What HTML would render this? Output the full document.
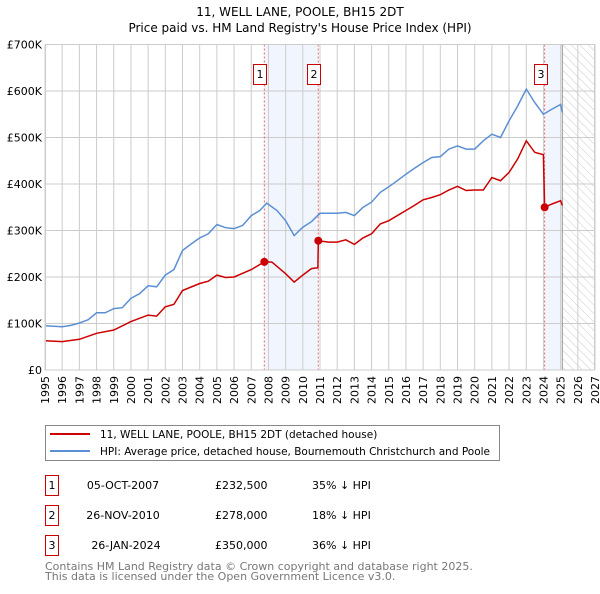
<!DOCTYPE html>
<html><head><meta charset="utf-8"><style>
body{margin:0;background:#fff;font-family:"DejaVu Sans","Liberation Sans",sans-serif;}
svg text{font-family:"DejaVu Sans","Liberation Sans",sans-serif;}
</style></head><body>
<svg id="c" width="600" height="590" viewBox="0 0 600 590">
<defs><pattern id="hatch" width="6" height="6" patternUnits="userSpaceOnUse" patternTransform="rotate(-45)"><line x1="0" y1="0" x2="0" y2="6" stroke="#ccc" stroke-width="1"/></pattern></defs>
<text x="300" y="16" text-anchor="middle" font-size="12">11, WELL LANE, POOLE, BH15 2DT</text>
<text x="300" y="32" text-anchor="middle" font-size="12">Price paid vs. HM Land Registry's House Price Index (HPI)</text>
<g id="plot"></g>
<g>
<rect x="45.5" y="425.5" width="454" height="35" fill="#fff" stroke="#888"/>
<line x1="50" y1="434" x2="90" y2="434" stroke="#cc0000" stroke-width="2"/>
<text x="100" y="438" font-size="10.5">11, WELL LANE, POOLE, BH15 2DT (detached house)</text>
<line x1="50" y1="451" x2="90" y2="451" stroke="#5b8fd4" stroke-width="2"/>
<text x="100" y="455" font-size="10.5" textLength="390">HPI: Average price, detached house, Bournemouth Christchurch and Poole</text>
</g>
<g font-size="11">
<rect x="45.5" y="475.5" width="13" height="20" fill="none" stroke="#cc0000"/><text x="52" y="489" text-anchor="middle">1</text>
<text x="123" y="489" text-anchor="middle">05-OCT-2007</text><text x="215" y="489">£232,500</text><text x="312" y="489">35% ↓ HPI</text>
<rect x="45.5" y="505.5" width="13" height="20" fill="none" stroke="#cc0000"/><text x="52" y="519" text-anchor="middle">2</text>
<text x="123" y="519" text-anchor="middle">26-NOV-2010</text><text x="215" y="519">£278,000</text><text x="312" y="519">18% ↓ HPI</text>
<rect x="45.5" y="535.5" width="13" height="20" fill="none" stroke="#cc0000"/><text x="52" y="549" text-anchor="middle">3</text>
<text x="126" y="549" text-anchor="middle">26-JAN-2024</text><text x="215" y="549">£350,000</text><text x="312" y="549">36% ↓ HPI</text>
</g>
<text x="45" y="570" font-size="11" fill="#777">Contains HM Land Registry data © Crown copyright and database right 2025.</text>
<text x="45" y="580" font-size="11" fill="#777">This data is licensed under the Open Government Licence v3.0.</text>
</svg>
<script>
const hpiYears=[1995,1996,1996.5,1997,1997.5,1998,1998.5,1999,1999.5,2000,2000.5,2001,2001.5,2002,2002.5,2003,2003.5,2004,2004.5,2005,2005.5,2006,2006.5,2007,2007.5,2007.9,2008.5,2009,2009.5,2010,2010.5,2011,2011.5,2012,2012.5,2013,2013.5,2014,2014.5,2015,2015.5,2016,2016.5,2017,2017.5,2018,2018.5,2019,2019.5,2020,2020.5,2021,2021.5,2022,2022.5,2023,2023.5,2024,2024.5,2025,2025.1];
const hpiValues=[95,93,96,101,108,123,123,132,134,154,164,181,179,204,216,257,271,284,293,313,306,304,311,332,343,359,343,321,289,307,319,337,337,337,339,332,350,361,382,394,407,421,434,446,457,459,475,482,475,475,493,507,500,536,568,604,575,550,561,571,554];
const propYears=[1995,1996,1997,1998,1999,2000,2001,2001.5,2002,2002.5,2003,2004,2004.5,2005,2005.5,2006,2007,2007.76,2008.2,2009,2009.5,2010,2010.5,2010.88,2010.9,2011.5,2012,2012.5,2013,2013.5,2014,2014.5,2015,2016,2016.5,2017,2017.5,2018,2018.5,2019,2019.5,2020,2020.5,2021,2021.5,2022,2022.5,2023,2023.5,2024.0,2024.07,2024.5,2025,2025.1];
const propValues=[63,61,66,79,86,104,118,116,136,141,171,186,191,204,199,200,216,232.5,232,207,189,204,218,220,278,275,275,280,270,284,293,314,321,343,354,366,371,377,387,395,386,387,387,414,407,425,454,493,468,463,350,357,364,354];
const saleYears=[2007.76,2010.9,2024.07];
const saleValues=[232.5,278,350];
const saleLabels=["1","2","3"];
const yTicks=[0,100,200,300,400,500,600,700];
const yTickLabels=["£0","£100K","£200K","£300K","£400K","£500K","£600K","£700K"];
const xTicks=[1995,1996,1997,1998,1999,2000,2001,2002,2003,2004,2005,2006,2007,2008,2009,2010,2011,2012,2013,2014,2015,2016,2017,2018,2019,2020,2021,2022,2023,2024,2025,2026,2027];
const dataEnd=2025.1;

const L=45,R=595,T=44.5,B=370;
const X=y=>L+(y-1995)/(2027-1995)*(R-L);
const Y=v=>B-v/700*(B-T);
const NS="http://www.w3.org/2000/svg";
const g=document.getElementById('plot');
function mk(t,a,p){const e=document.createElementNS(NS,t);for(const k in a)e.setAttribute(k,a[k]);(p||g).appendChild(e);return e;}
let s1=mk('rect',{x:X(saleYears[0]),y:T,width:X(saleYears[1])-X(saleYears[0]),height:B-T,fill:'#eef3fc',opacity:0.8});


let s2=mk('rect',{x:X(saleYears[2]),y:T,width:X(dataEnd)-X(saleYears[2]),height:B-T,fill:'#eef3fc',opacity:0.8});


let h=mk('rect',{x:X(dataEnd),y:T,width:R-X(dataEnd),height:B-T,fill:'url(#hatch)'});


xTicks.forEach(t=>{const l=mk('line',{x1:X(t),x2:X(t),y1:T,y2:B,stroke:'#ccc','stroke-width':1});


const tx=mk('text',{x:0,y:0,'font-size':11,'text-anchor':'end',transform:`translate(${X(t)+4},${B+6}) rotate(-90)`});tx.textContent=t;

});
yTicks.forEach((t,i)=>{const l=mk('line',{x1:L,x2:R,y1:Y(t),y2:Y(t),stroke:'#ccc','stroke-width':1});


const tx=mk('text',{x:L-3,y:Y(t)+4,'font-size':11,'text-anchor':'end'});tx.textContent=yTickLabels[i];

});
let dl=mk('line',{x1:X(dataEnd),x2:X(dataEnd),y1:T,y2:B,stroke:'#999','stroke-width':1});


saleYears.forEach((y,i)=>{const l=mk('line',{x1:X(y),x2:X(y),y1:T,y2:B,stroke:'#e66','stroke-width':1,'stroke-dasharray':'2,2'});


const r=mk('rect',{x:Math.round(X(y))-10.5,y:64.5,width:13,height:20,fill:'#fff',stroke:'#cc0000'});


const tx=mk('text',{x:Math.round(X(y))-4,y:78,'font-size':11,'text-anchor':'middle'});tx.textContent=saleLabels[i];

});
const pts=(xs,vs)=>xs.map((x,i)=>X(x).toFixed(1)+','+Y(vs[i]).toFixed(1)).join(' ');
let hp=mk('polyline',{points:pts(hpiYears,hpiValues),fill:'none',stroke:'#5b8fd4','stroke-width':1.5});


let pp=mk('polyline',{points:pts(propYears,propValues),fill:'none',stroke:'#cc0000','stroke-width':1.5});


saleYears.forEach((y,i)=>{const c=mk('circle',{cx:X(y),cy:Y(saleValues[i]),r:4,fill:'#cc0000'});

});
let fr=mk('rect',{x:L+0.5,y:T,width:R-L-1,height:B-T,fill:'none',stroke:'#ccc'});


</script>
</body></html>
